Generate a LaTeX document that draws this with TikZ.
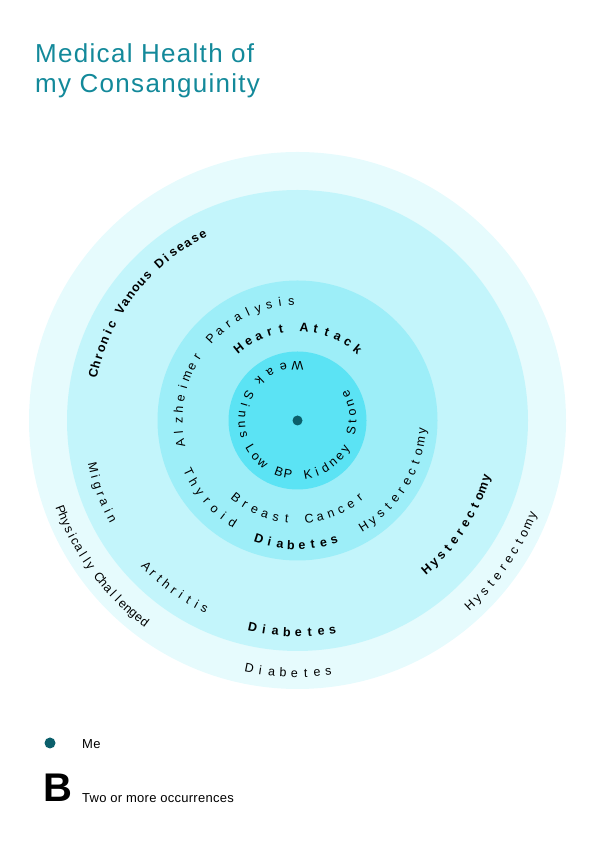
\documentclass[tikz,border=0pt]{standalone}
\usepackage{fontspec}
\setmainfont{Liberation Sans}
\definecolor{ringA}{HTML}{E6FBFD}
\definecolor{ringB}{HTML}{C3F5FB}
\definecolor{ringC}{HTML}{9DEEF8}
\definecolor{ringD}{HTML}{5BE3F4}
\definecolor{medot}{HTML}{0B5F6B}
\definecolor{titlecol}{HTML}{13899A}
\newcommand\arcreg{\fontsize{12.5}{14}\selectfont}
\newcommand\arcbold{\fontsize{12.5}{14}\selectfont\bfseries}
\makeatletter
\newlength\at@W \newlength\at@w \newlength\at@first \newlength\at@last \newlength\at@s
\newcount\at@n
\newcount\at@id
% #1 baseline radius, #2 angle of first char, #3 angle of last char, #4 dir (1 ccw, -1 cw), #5 font, #6 text
\newcommand\arctext[6]{%
  \at@W=0pt \at@n=0 \at@first=-1pt
  \@tfor\at@ch:=#6\do{%
    \settowidth\at@w{#5\at@ch}%
    \advance\at@W by \at@w
    \advance\at@n by 1
    \ifdim\at@first<0pt \at@first=\at@w\fi
    \at@last=\at@w
  }%
  \pgfmathsetmacro\at@track{(abs(#3-(#2))*pi/180*#1 - (\the\at@W - 0.5*\the\at@first - 0.5*\the\at@last))/(\the\at@n-1)}%
  \at@s=-0.5\at@first
  \@tfor\at@ch:=#6\do{%
    \settowidth\at@w{#5\at@ch}%
    \pgfmathsetmacro\at@ang{#2 + (#4)*(\the\at@s + 0.5*\the\at@w)/#1*180/pi}%
    \pgfmathsetmacro\at@rot{\at@ang + (#4)*90}%
    \global\advance\at@id by 1
    \node[arcchar, rotate=\at@rot, font=#5] (ac\the\at@id) at (\at@ang:#1) {\at@ch};
    \advance\at@s by \at@w
    \advance\at@s by \at@track pt
  }%
}
\makeatother
\tikzset{
  arcchar/.style={inner sep=0pt, anchor=base, text=black},
  titletext/.style={anchor=base west, inner sep=0pt, text=titlecol, font=\fontsize{26}{30}\selectfont\addfontfeatures{LetterSpace=5}},
  legendtext/.style={anchor=base west, inner sep=0pt, text=black, font=\fontsize{13}{15}\selectfont\addfontfeatures{LetterSpace=2}}
}
\begin{document}
\begin{tikzpicture}[x=1pt,y=1pt]
\useasboundingbox (0,0) rectangle (596,842);
% title
\node[titletext] (title1) at (35,779) {Medical Health of};
\node[titletext] (title2) at (35,749) {my Consanguinity};
\begin{scope}[shift={(297.5,421.5)}]
\fill[ringA] (0,0) circle (268.5);
\fill[ringB] (0,0) circle (230.5);
\fill[ringC] (0,0) circle (140);
\fill[ringD] (0,0) circle (69);
\fill[medot] (0,0) circle (5);
% inner ring
\arctext{59}{90}{134}{1}{\arcreg}{Weak}
\arctext{59}{153}{195}{1}{\arcreg}{Sinus}
\arctext{59}{211}{260}{1}{\arcreg}{Low~BP}
\arctext{59}{281}{388}{1}{\arcreg}{Kidney~Stone}
% third ring
\arctext{115}{191}{93}{-1}{\arcreg}{Alzheimer~Paralysis}
\arctext{89}{129}{50}{-1}{\arcbold}{Heart~Attack}
\arctext{125}{205.5}{237.5}{1}{\arcreg}{Thyroid}
\arctext{103}{231.5}{309}{1}{\arcreg}{Breast~Cancer}
\arctext{129}{252}{287}{1}{\arcbold}{Diabetes}
\arctext{129}{302}{355}{1}{\arcreg}{Hysterectomy}
% second ring
\arctext{205}{167}{117}{-1}{\arcbold}{Chronic~Vanous~Disease}
\arctext{214}{193}{208}{1}{\arcreg}{Migrain}
\arctext{214}{224}{243.7}{1}{\arcreg}{Arthritis}
\arctext{216}{257.8}{279.5}{1}{\arcbold}{Diabetes}
\arctext{201}{311}{343}{1}{\arcbold}{Hysterectomy}
% outer ring
\arctext{257}{200.6}{232.8}{1}{\arcreg}{Physically~Challenged}
\arctext{257}{259}{277}{1}{\arcreg}{Diabetes}
\arctext{257}{313}{338}{1}{\arcreg}{Hysterectomy}
\end{scope}
% legend
\fill[medot] (50,99) circle (5.5);
\node[legendtext] (melabel) at (82,93) {Me};
\node[anchor=base west, inner sep=0pt, font=\fontsize{40}{44}\selectfont\bfseries] (bmark) at (43,40) {B};
\node[legendtext] (blabel) at (82,39) {Two or more occurrences};
\end{tikzpicture}
\end{document}
